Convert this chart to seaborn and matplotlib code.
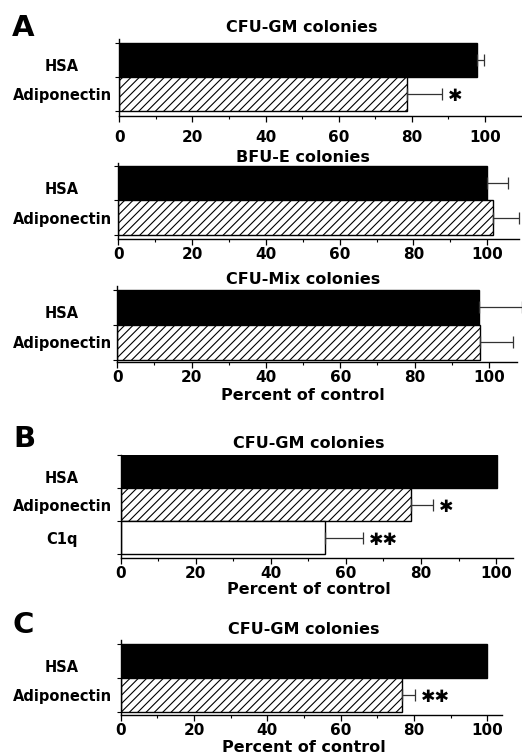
import numpy as np
import pandas as pd
import matplotlib
matplotlib.use("Agg")
import matplotlib.pyplot as plt
import matplotlib.transforms as mtransforms
import seaborn as sns

# ---------------- data ----------------
labels_2 = ["HSA", "Adiponectin"]
labels_3 = ["HSA", "Adiponectin", "C1q"]

a_gm_vals = [97.9, 78.6]
a_gm_err = [1.9, 9.6]
a_gm_sig = ["", "*"]

a_bfu_vals = [100.0, 101.5]
a_bfu_err = [5.7, 7.1]
a_bfu_sig = ["", ""]

a_mix_vals = [97.3, 97.5]
a_mix_err = [11.5, 8.9]
a_mix_sig = ["", ""]

b_gm_vals = [100.2, 77.3, 54.4]
b_gm_err = [0.0, 6.0, 10.2]
b_gm_sig = ["", "*", "**"]

c_gm_vals = [100.0, 76.6]
c_gm_err = [0.0, 3.7]
c_gm_sig = ["", "**"]

x_ticks = [0, 20, 40, 60, 80, 100]

# ---------------- style ----------------
sns.set_style("ticks")
plt.rcParams["font.family"] = ["DejaVu Sans"]
plt.rcParams["font.weight"] = "bold"
plt.rcParams["hatch.color"] = "black"
plt.rcParams["hatch.linewidth"] = 0.8
for k in ("text.color", "axes.labelcolor", "xtick.color", "ytick.color", "axes.edgecolor"):
    plt.rcParams[k] = "black"

W, H = 522, 755
fig = plt.figure(figsize=(W / 100, H / 100), dpi=100)

fill = {"HSA": "black", "Adiponectin": "white", "C1q": "white"}
hatch = {"HSA": "", "Adiponectin": "////", "C1q": ""}


def panel(box, xmax, ylim, labels, vals, errs, sigs, title, title_y,
          xlabel_y=None, xpad=2.0):
    left, top, right, bottom = box
    ax = fig.add_axes([left / W, 1 - bottom / H, (right - left) / W, (bottom - top) / H])
    df = pd.DataFrame({"cond": labels, "val": vals})
    sns.barplot(data=df, x="val", y="cond", hue="cond", orient="h",
                palette=[fill[l] for l in labels], legend=False,
                width=1.0, edgecolor="black", linewidth=1.0,
                errorbar=None, ax=ax, saturation=1)
    for p, l in zip(ax.patches, labels):
        p.set_hatch(hatch[l])
    pos = np.arange(len(labels))
    v = np.asarray(vals, float)
    e = np.asarray(errs, float)
    m = e > 0
    ax.errorbar(x=v[m], y=pos[m], xerr=[np.zeros(m.sum()), e[m]], fmt="none",
                ecolor="#333333", elinewidth=0.9, capsize=4.5, capthick=0.9,
                clip_on=False, zorder=3)
    for xv, ev, yp, s in zip(vals, errs, pos, sigs):
        if s:
            ax.annotate(s.replace("*", "\u2731"), xy=(xv + ev, yp), xytext=(4, -1.5),
                        textcoords="offset points", ha="left", va="center",
                        fontsize=12.5, fontweight="bold")
    ax.set_xlim(0, xmax)
    ax.set_ylim(*ylim)
    ax.set_xticks(x_ticks)
    ax.set_xticks(np.arange(10, 110, 20), minor=True)
    ax.set_xticklabels([str(t) for t in x_ticks], fontsize=11, fontweight="bold")
    ax.set_yticks(pos)
    ax.set_yticklabels(labels, fontsize=10.5, fontweight="bold", ha="center")
    ax.set_yticks(np.arange(-0.5, len(labels), 1.0), minor=True)
    ypad = (left - 62) * 0.72
    ax.tick_params(axis="y", which="major", length=0, pad=ypad)
    ax.tick_params(axis="y", which="minor", length=3, width=0.8)
    ax.tick_params(axis="x", which="major", length=4, width=0.9, pad=xpad)
    ax.tick_params(axis="x", which="minor", length=2.5, width=0.8)
    # HSA label sits slightly below its bar centre in the reference
    tl = ax.get_yticklabels()[0]
    tl.set_transform(tl.get_transform() +
                     mtransforms.ScaledTranslation(0, -0.05, fig.dpi_scale_trans))
    ax.set_xlabel("")
    ax.set_ylabel("")
    sns.despine(ax=ax)
    for sp in ("left", "bottom"):
        ax.spines[sp].set_linewidth(1.0)
        ax.spines[sp].set_color("black")
    tr = mtransforms.blended_transform_factory(ax.transData, fig.transFigure)
    ax.text(50, 1 - title_y / H, title, transform=tr, ha="center", va="center",
            fontsize=11.5, fontweight="bold")
    if xlabel_y is not None:
        ax.text(50, 1 - xlabel_y / H, "Percent of control", transform=tr,
                ha="center", va="center", fontsize=11.5, fontweight="bold")
    return ax


panel((119.3, 39, 521.6, 116), 110, (1.65, -0.63), labels_2, a_gm_vals, a_gm_err,
      a_gm_sig, "CFU-GM colonies", 27, xpad=6.3)
panel((118.3, 163, 519, 239), 108.6, (1.616, -0.587), labels_2, a_bfu_vals, a_bfu_err,
      a_bfu_sig, "BFU-E colonies", 158)
panel((117.3, 286, 516.7, 362), 107.5, (1.557, -0.6), labels_2, a_mix_vals, a_mix_err,
      a_mix_sig, "CFU-Mix colonies", 279, xlabel_y=395)
panel((120.7, 455, 513, 558), 104.5, (2.62, -0.5), labels_3, b_gm_vals, b_gm_err,
      b_gm_sig, "CFU-GM colonies", 443, xlabel_y=589)
panel((120.7, 640, 501.7, 715), 103.9, (1.6, -0.62), labels_2, c_gm_vals, c_gm_err,
      c_gm_sig, "CFU-GM colonies", 630, xlabel_y=748)

for letter, x, y in [("A", 12, 36), ("B", 13, 447), ("C", 12, 633)]:
    fig.text(x / W, 1 - y / H, letter, ha="left", va="baseline",
             fontsize=21, fontweight="bold")

fig.savefig("out.png", dpi=100)
